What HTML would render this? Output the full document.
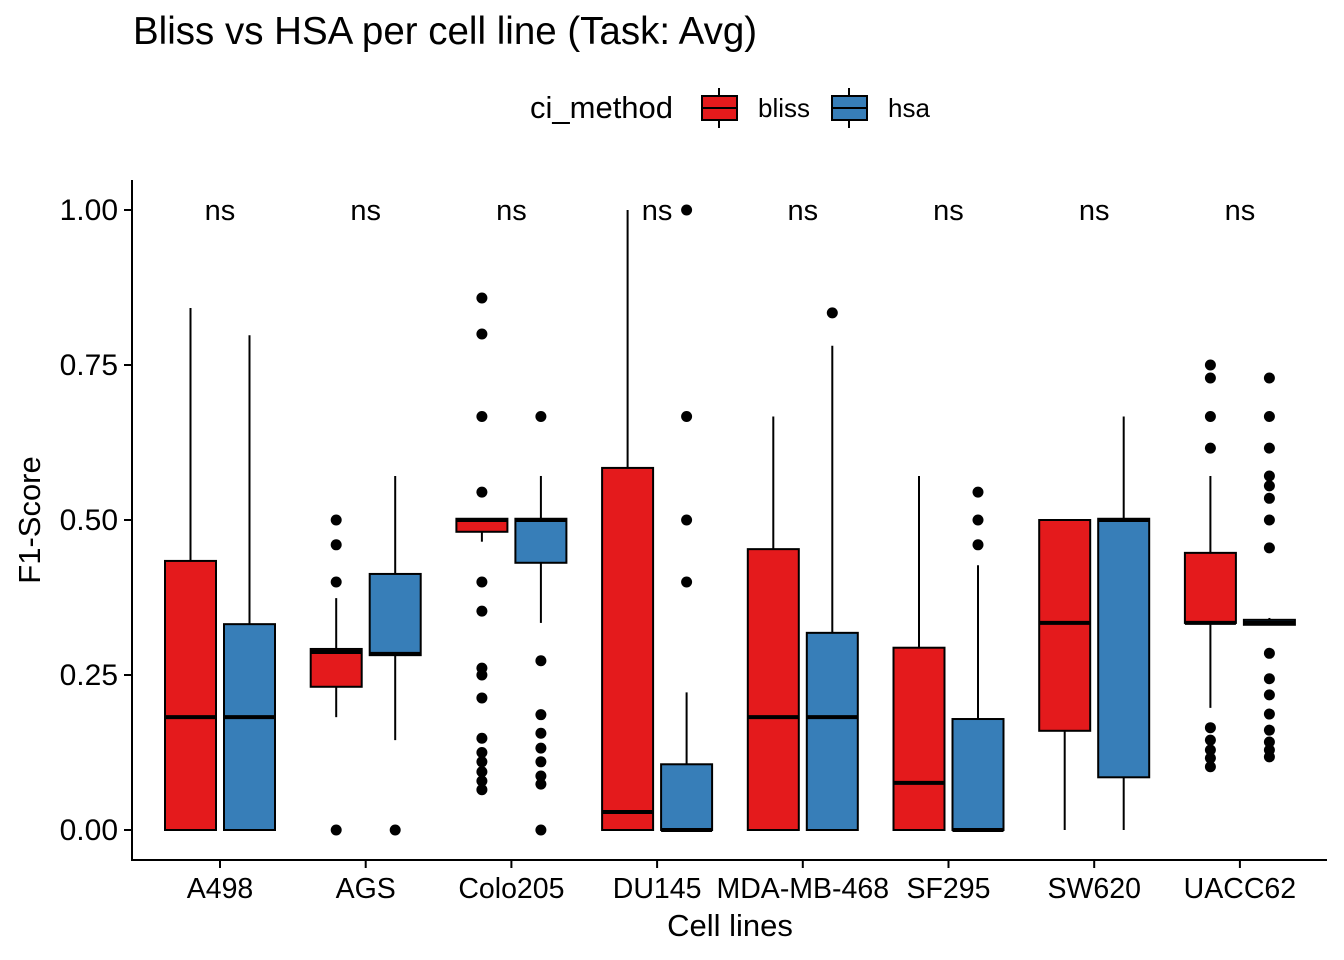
<!DOCTYPE html>
<html><head><meta charset="utf-8"><style>
html,body{margin:0;padding:0;background:#fff;}
svg{display:block;font-family:"Liberation Sans",sans-serif;}
</style></head><body>
<svg id="chart" width="1344" height="960">
<text x="133" y="44" font-size="38.5" fill="#000">Bliss vs HSA per cell line (Task: Avg)</text>
<g>
<text x="530" y="118" font-size="31">ci_method</text>
<g>
<line x1="719" y1="88" x2="719" y2="128" stroke="#000" stroke-width="2"/>
<rect x="702" y="96" width="35" height="24" fill="#E41A1C" stroke="#000" stroke-width="2"/>
<line x1="702" y1="108" x2="737" y2="108" stroke="#000" stroke-width="2"/>
<text x="758" y="117" font-size="26">bliss</text></g>
<g>
<line x1="849" y1="88" x2="849" y2="128" stroke="#000" stroke-width="2"/>
<rect x="832" y="96" width="35" height="24" fill="#377EB8" stroke="#000" stroke-width="2"/>
<line x1="832" y1="108" x2="867" y2="108" stroke="#000" stroke-width="2"/>
<text x="888" y="117" font-size="26">hsa</text></g>
</g>
<text transform="translate(40,520) rotate(-90)" text-anchor="middle" font-size="31">F1-Score</text>
<text x="730" y="936" text-anchor="middle" font-size="31">Cell lines</text>
<g id="plot"></g>
</svg>
<script>
const categories=["A498","AGS","Colo205","DU145","MDA-MB-468","SF295","SW620","UACC62"];
const methods=["bliss","hsa"];
const yTicks=[0,0.25,0.5,0.75,1.0];
const yTickLabels=["0.00","0.25","0.50","0.75","1.00"];
const sigLabels=["ns","ns","ns","ns","ns","ns","ns","ns"];
// [lowerWhisker,q1,median,q3,upperWhisker]
const blissStats=[[0,0,0.182,0.434,0.842],[0.182,0.231,0.287,0.292,0.374],[0.465,0.481,0.5,0.502,0.502],[0,0,0.029,0.584,1.0],[0,0,0.182,0.453,0.667],[0,0,0.076,0.294,0.571],[0,0.16,0.334,0.5,0.5],[0.197,0.334,0.334,0.447,0.571]];
const hsaStats=[[0,0,0.182,0.332,0.798],[0.145,0.282,0.284,0.413,0.571],[0.334,0.431,0.5,0.502,0.571],[0,0,0,0.106,0.222],[0,0,0.182,0.318,0.781],[0,0,0,0.179,0.427],[0,0.085,0.5,0.502,0.667],[0.331,0.331,0.334,0.339,0.342]];
const blissOutliers=[[],[0.5,0.46,0.4,0],[0.858,0.8,0.667,0.545,0.4,0.353,0.261,0.25,0.213,0.148,0.125,0.11,0.094,0.079,0.065],[],[],[],[],[0.75,0.729,0.667,0.616,0.165,0.145,0.129,0.116,0.102]];
const hsaOutliers=[[],[0],[0.667,0.273,0.186,0.156,0.132,0.11,0.087,0.074,0],[1.0,0.667,0.5,0.4],[0.834],[0.545,0.5,0.46],[],[0.729,0.667,0.616,0.571,0.555,0.535,0.5,0.455,0.285,0.244,0.218,0.187,0.161,0.142,0.129,0.118]];
const NS="http://www.w3.org/2000/svg";
const plot=document.getElementById("plot");
const y=v=>830-620*v;
const xc=i=>220+i*145.7;
const colors={bliss:"#E41A1C",hsa:"#377EB8"};
function mk(tag,attrs,parent){const e=document.createElementNS(NS,tag);for(const k in attrs)e.setAttribute(k,attrs[k]);(parent||plot).appendChild(e);return e;}
let ax=mk("line",{x1:132,y1:180,x2:132,y2:861,stroke:"#000","stroke-width":2});


ax=mk("line",{x1:131,y1:860,x2:1327,y2:860,stroke:"#000","stroke-width":2});


yTicks.forEach((t,i)=>{
 mk("line",{x1:124,x2:132,y1:y(t),y2:y(t),stroke:"#000","stroke-width":2});
 const tx=mk("text",{x:118,y:y(t)+10,"text-anchor":"end","font-size":30});
 tx.textContent=yTickLabels[i];
 
 
});
categories.forEach((c,i)=>{
 mk("line",{x1:xc(i),x2:xc(i),y1:860,y2:868,stroke:"#000","stroke-width":2});
 const tx=mk("text",{x:xc(i),y:898,"text-anchor":"middle","font-size":28.5});
 tx.textContent=c;
 
 
 const ns=mk("text",{x:xc(i),y:220,"text-anchor":"middle","font-size":29});
 ns.textContent=sigLabels[i];
 
 
 [[blissStats,blissOutliers,"bliss",-29.5],[hsaStats,hsaOutliers,"hsa",29.5]].forEach(([st,ol,m,off])=>{
  const s=st[i],cx=xc(i)+off,w=51;
  const g=mk("g",{});
  
  
  mk("line",{x1:cx,x2:cx,y1:y(s[4]),y2:y(s[3]),stroke:"#000","stroke-width":2},g);
  mk("line",{x1:cx,x2:cx,y1:y(s[1]),y2:y(s[0]),stroke:"#000","stroke-width":2},g);
  mk("rect",{x:cx-w/2,y:y(s[3]),width:w,height:Math.max(1,y(s[1])-y(s[3])),fill:colors[m],stroke:"#000","stroke-width":2},g);
  mk("line",{x1:cx-w/2,x2:cx+w/2,y1:y(s[2]),y2:y(s[2]),stroke:"#000","stroke-width":4},g);
  ol[i].forEach(v=>{const p=mk("circle",{cx:cx,cy:y(v),r:5.5,fill:"#000"},g);
   
   });
 });
});
</script>
</body></html>
